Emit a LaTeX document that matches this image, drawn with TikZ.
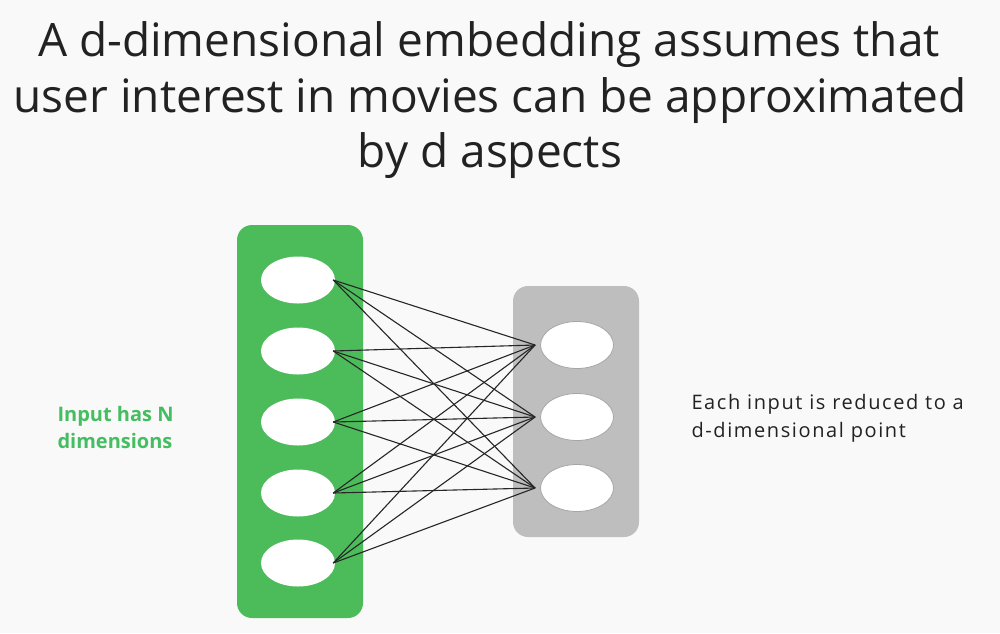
\documentclass[tikz,border=0pt]{standalone}
\usepackage{fontspec}
\setmainfont{Open Sans}
\usetikzlibrary{shapes.geometric}
\definecolor{bg}{HTML}{F9F9F9}
\definecolor{gbox}{HTML}{4CBB5A}
\definecolor{graybox}{HTML}{BEBEBE}
\definecolor{glabel}{HTML}{44BE60}
\definecolor{txt}{HTML}{222222}
\begin{document}
\begin{tikzpicture}[x=1pt,y=-1pt,
  titletext/.style={font=\fontsize{46}{52}\selectfont,text=txt,anchor=base,inner sep=0pt},
  inell/.style={ellipse,fill=white,minimum width=74pt,minimum height=47pt,inner sep=0pt},
  outell/.style={ellipse,fill=white,draw=gray!70,line width=0.8pt,minimum width=73pt,minimum height=47pt,inner sep=0pt},
  link/.style={draw=black!85,line width=1.1pt},
  panel/.style={rounded corners=15pt}]
\useasboundingbox[fill=bg] (0,0) rectangle (1000,633);
% title
\node[titletext] (title1) at (489,56) {A d-dimensional embedding assumes that};
\node[titletext] (title2) at (490,112) {user interest in movies can be approximated};
\node[titletext] (title3) at (490,167) {by d aspects};
% panels
\fill[gbox,panel] (237,225) rectangle (363,618);
\fill[graybox,panel] (513,286) rectangle (639,537);
% input ellipses
\foreach \i/\y in {1/280,2/351,3/422,4/493,5/563}
  \node[inell] (in\i) at (298,\y) {};
\foreach \j/\y in {1/345,2/417,3/488}
  \node[outell] (out\j) at (577,\y) {};
% links
\foreach \i in {1,...,5}
  \foreach \j in {1,2,3}
    \draw[link] ([xshift=-2pt]in\i.east) -- ([xshift=-5pt]out\j.west);
% labels
\node[font=\fontsize{20}{27}\selectfont\bfseries,text=glabel,align=left,anchor=west] (inlab) at (54,427)
  {Input has N\\dimensions};
\node[font=\fontsize{20}{28}\selectfont\addfontfeature{LetterSpace=8},text=txt,align=left,anchor=west] (outlab) at (688,418)
  {Each input is reduced to a\\d-dimensional point};
\end{tikzpicture}
\end{document}
